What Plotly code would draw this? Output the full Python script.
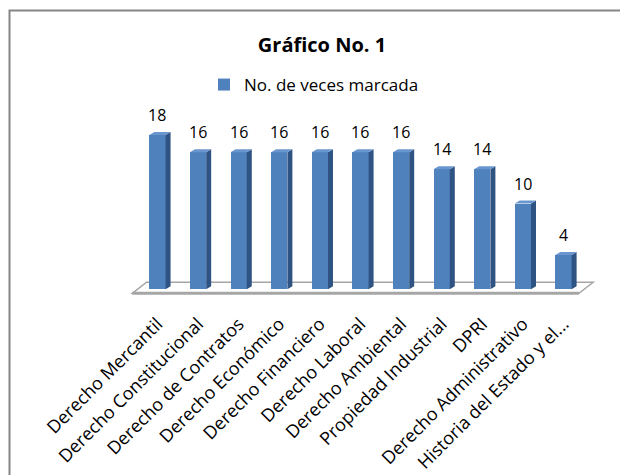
import plotly.graph_objects as go

categories = [
    'Derecho Mercantil',
    'Derecho Constitucional',
    'Derecho de Contratos',
    'Derecho Económico',
    'Derecho Financiero',
    'Derecho Laboral',
    'Derecho Ambiental',
    'Propiedad Industrial',
    'DPRI',
    'Derecho Administrativo',
    'Historia del Estado y el...',
]
veces_marcada = [18, 16, 16, 16, 16, 16, 16, 14, 14, 10, 4]
series_name = 'No. de veces marcada'
title_text = 'Gráfico No. 1'

FONT = 'Open Sans, Lato, sans-serif'
FRONT = '#4F81BD'
SIDE = '#2F5382'
TOP = '#6A96CF'

# the page body adds an 8 px margin, so the figure is a bit smaller than the window
OFF = 8
W, H = 628 - OFF, 475 - OFF
L, T, PW, PH = 127 - OFF, 114 - OFF, 471, 186
B = H - T - PH
X_RANGE = [-0.75, 10.85]
Y_RANGE = [-1.25, 20.45]


def px_x(px):
    # screen pixel -> paper x
    return (px - OFF - L) / PW


def px_y(py):
    # screen pixel -> paper y
    return (T + PH - (py - OFF)) / PH


xs = list(range(len(categories)))
bar_w = 0.40
dx, dy = 0.123, 0.35  # depth of the 3D effect, data units

fig = go.Figure()

fig.add_trace(
    go.Bar(
        x=xs,
        y=veces_marcada,
        width=bar_w,
        name=series_name,
        marker=dict(color=FRONT, line=dict(width=0)),
        showlegend=True,
    )
)

# side and top faces of the bars
side_x, side_y, top_x, top_y = [], [], [], []
for x, v in zip(xs, veces_marcada):
    x1 = x + bar_w / 2
    x0 = x - bar_w / 2
    side_x += [x1, x1 + dx, x1 + dx, x1, x1, None]
    side_y += [0, dy, v + dy, v, 0, None]
    top_x += [x0, x0 + dx, x1 + dx, x1, x0, None]
    top_y += [v, v + dy, v + dy, v, v, None]

fig.add_trace(
    go.Scatter(x=side_x, y=side_y, fill='toself', fillcolor=SIDE, mode='lines',
               line=dict(width=0, color=SIDE), showlegend=False, hoverinfo='skip')
)
fig.add_trace(
    go.Scatter(x=top_x, y=top_y, fill='toself', fillcolor=TOP, mode='lines',
               line=dict(width=0, color=TOP), showlegend=False, hoverinfo='skip')
)

# floor of the 3D chart
n = len(categories)
fl, fr, fb, fd = -0.62, n - 1 + 0.38, -0.47, 1.29
floor_path = (
    f'M {fl},{fb} L {fl + 0.35},{fb + fd} L {fr + 0.35},{fb + fd} L {fr},{fb} Z'
)
fig.add_shape(type='path', path=floor_path, xref='x', yref='y', layer='below',
              line=dict(color='#A6A6A6', width=1.5), fillcolor='white')
fig.add_shape(type='line', x0=fl, y0=fb, x1=fr, y1=fb, xref='x', yref='y', layer='below',
              line=dict(color='#A6A6A6', width=3))

for x, v in zip(xs, veces_marcada):
    fig.add_annotation(x=x, y=v, text=str(v), showarrow=False, yshift=20,
                       font=dict(family=FONT, size=16, color='#000000'))

# outer chart border
fig.add_shape(type='rect', xref='paper', yref='paper',
              x0=px_x(9.5), y0=px_y(520), x1=px_x(680), y1=px_y(10.5),
              line=dict(color='#868686', width=2), layer='below')

fig.update_layout(
    width=W,
    height=H,
    margin=dict(l=L, r=W - L - PW, t=T, b=B, pad=0, autoexpand=False),
    paper_bgcolor='white',
    plot_bgcolor='white',
    title=dict(text=f'<b>{title_text}</b>', x=px_x(322), xref='paper', xanchor='center',
               y=1 - (45 - OFF) / H, yanchor='middle',
               font=dict(family=FONT, size=20, color='#000000')),
    legend=dict(x=px_x(204), y=px_y(85), xanchor='left', yanchor='middle',
                orientation='h', font=dict(family=FONT, size=17, color='#000000'),
                bgcolor='rgba(0,0,0,0)', itemwidth=30),
    xaxis=dict(range=X_RANGE, tickvals=xs, ticktext=categories, tickangle=-45,
               showgrid=False, zeroline=False, showline=False, ticks='',
               automargin=False, ticklabelstandoff=9,
               tickfont=dict(family=FONT, size=18, color='#000000')),
    yaxis=dict(range=Y_RANGE, visible=False),
    font=dict(family=FONT),
    bargap=0,
)

fig.write_html('out.html')
